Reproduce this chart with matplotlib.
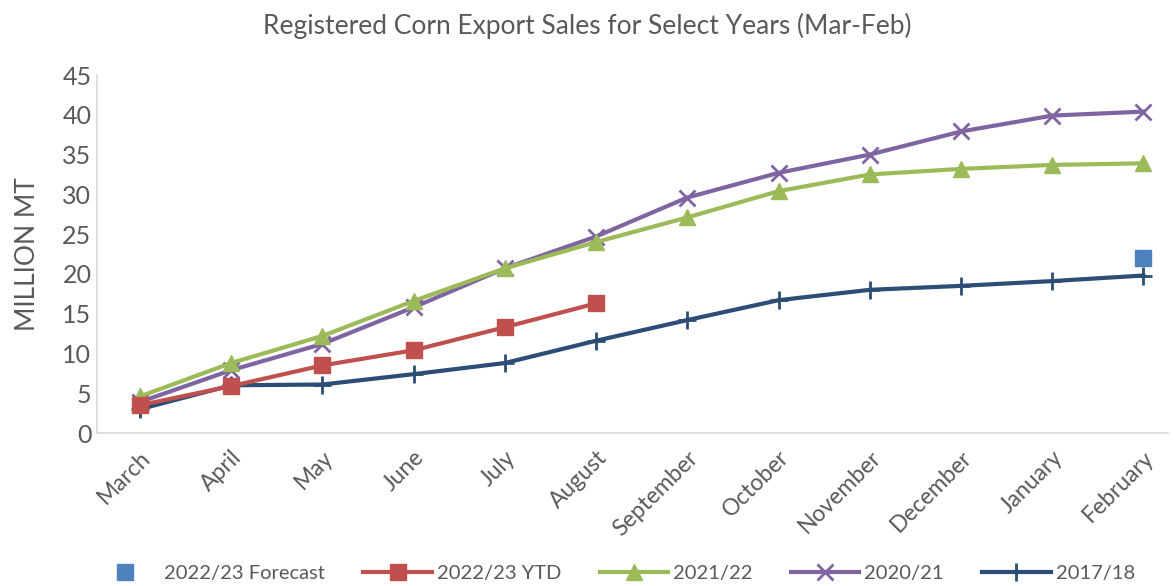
import matplotlib
matplotlib.use("Agg")
import matplotlib.pyplot as plt

plt.rcParams['font.family'] = ['Lato', 'DejaVu Sans']

months = ["March", "April", "May", "June", "July", "August", "September",
          "October", "November", "December", "January", "February"]
ytd_2223 = [3.5, 5.9, 8.5, 10.4, 13.3, 16.3]
s_2122 = [4.6, 8.8, 12.2, 16.6, 20.7, 24.0, 27.1, 30.4, 32.5, 33.2, 33.7, 33.9]
s_2021 = [3.9, 7.9, 11.2, 15.8, 20.7, 24.7, 29.6, 32.7, 35.0, 37.9, 39.9, 40.4]
s_1718 = [3.0, 6.0, 6.1, 7.4, 8.8, 11.6, 14.2, 16.7, 18.0, 18.5, 19.1, 19.8]
forecast_month = "February"
forecast_value = 22.0

gray = "#595959"
fig = plt.figure(figsize=(11.74, 5.86), dpi=100)
ax = fig.add_axes([0.0826, 0.261, 0.9124, 0.611])

x = list(range(len(months)))
lw = 3.0
ax.plot(x, s_1718, color="#2C4D75", lw=lw, marker="+", markersize=13, mew=2, label="2017/18", zorder=3)
ax.plot(x, s_2021, color="#8064A2", lw=lw, marker="x", markersize=11, mew=2, label="2020/21", zorder=4)
ax.plot(x, s_2122, color="#9BBB59", lw=lw, marker="^", markersize=12, label="2021/22", zorder=5)
ax.plot(x[:len(ytd_2223)], ytd_2223, color="#C0504D", lw=lw, marker="s", markersize=11, label="2022/23 YTD", zorder=6)
ax.plot([months.index(forecast_month)], [forecast_value], ls="none", marker="s",
        markersize=11, color="#4F81BD", label="2022/23 Forecast", zorder=7)

ax.set_xlim(-0.47, 11.27)
ax.set_ylim(0, 45)
ax.set_yticks(range(0, 46, 5))
ax.set_xticks(x)
ax.set_xticklabels(months, rotation=45, ha="right", rotation_mode="anchor")
ax.tick_params(axis="both", length=0, colors=gray)
ax.tick_params(axis="y", labelsize=18, pad=4)
ax.tick_params(axis="x", labelsize=16.5, pad=10)
for s in ["top", "right"]:
    ax.spines[s].set_visible(False)
for s in ["left", "bottom"]:
    ax.spines[s].set_color("#D9D9D9")
    ax.spines[s].set_linewidth(1.2)
ax.set_ylabel("MILLION MT", color=gray, fontsize=19, labelpad=16)
fig.text(0.5, 0.955, "Registered Corn Export Sales for Select Years (Mar-Feb)",
         ha="center", va="center", color=gray, fontsize=19)

handles, labels = ax.get_legend_handles_labels()
order = ["2022/23 Forecast", "2022/23 YTD", "2021/22", "2020/21", "2017/18"]
hmap = dict(zip(labels, handles))
leg = fig.legend([hmap[o] for o in order], order, loc="center", ncol=5,
                 bbox_to_anchor=(0.522, 0.022), frameon=False, fontsize=14.5,
                 handlelength=3.4, columnspacing=1.9, handletextpad=0.25,
                 labelcolor=gray)
fig.savefig("out.png", dpi=100)
